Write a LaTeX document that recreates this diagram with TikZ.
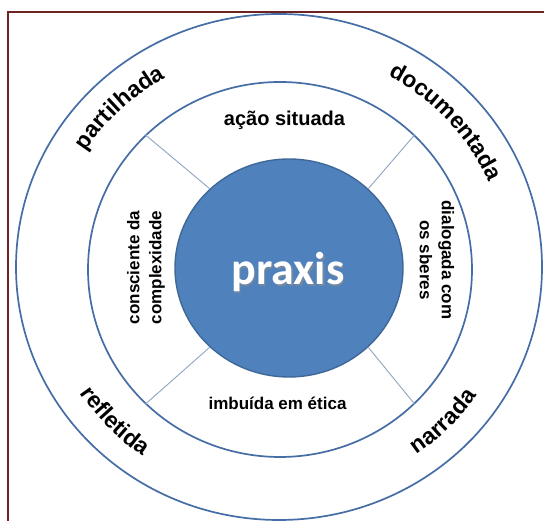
\documentclass[tikz,border=0pt]{standalone}
\usepackage{fontspec}
\setmainfont{Liberation Sans}
\newfontfamily\calibfont{Carlito}
\usetikzlibrary{decorations.text,shapes.geometric}
\definecolor{ringblue}{HTML}{456DA6}
\definecolor{praxisfill}{HTML}{4F81BD}
\definecolor{praxisdraw}{HTML}{3F6898}
\definecolor{spoke}{HTML}{8FA5C2}
\definecolor{framered}{HTML}{6E2323}
\tikzset{
  ringline/.style={draw=ringblue, line width=1.7pt, ellipse, inner sep=0pt},
  spokeline/.style={draw=spoke, line width=0.9pt},
  innerlabel/.style={font=\fontsize{17}{22}\selectfont\bfseries, align=center, inner sep=0pt},
  outerlabel/.style={decorate, decoration={text along path, text align=center,
     text={|\fontsize{23}{23}\selectfont\bfseries|#1}}}
}
\begin{document}
\begin{tikzpicture}[x=1pt,y=1pt]
\useasboundingbox (0,0) rectangle (544,521);
\fill[white] (0,0) rectangle (544,521);
% frame
\draw[framered, line width=2.5pt] (8,-5) -- (8,509) -- (560,509);
% rings
\node[ringline, minimum width=526pt, minimum height=506pt] (outer) at (279,254) {};
\node[ringline, minimum width=384pt, minimum height=375pt] (mid) at (280,251.5) {};
\node[ellipse, fill=praxisfill, draw=praxisdraw, line width=1.4pt, minimum width=228pt, minimum height=218pt, inner sep=0pt] (core) at (289,253) {};
% spokes
\draw[spokeline] (core.45) -- (mid.45);
\draw[spokeline] (core.135) -- (mid.135);
\draw[spokeline] (core.225) -- (mid.225);
\draw[spokeline] (core.315) -- (mid.315);
% praxis
\node[text=black!45, opacity=0.6, font=\calibfont\fontsize{46}{46}\selectfont\bfseries] at (289.5,247.5) {praxis};
\node[text=white, font=\calibfont\fontsize{46}{46}\selectfont\bfseries] (praxis) at (288,249) {praxis};
% inner labels
\node[innerlabel, font=\fontsize{20}{24}\selectfont\bfseries] (acao) at (284.5,401) {ação situada};
\node[innerlabel] (imbuida) at (277.5,118) {imbuída em ética};
\node[innerlabel, rotate=90] (consc) at (146,253.5) {consciente da\\complexidade};
\node[innerlabel, rotate=-90] (dial) at (437,261) {dialogada com\\os sberes};
% outer labels
\begin{scope}[shift={(279,253)}]
\path[outerlabel=partilhada] (164:228 and 219) arc[start angle=164, end angle=104, x radius=228, y radius=219];
\path[outerlabel=documentada] (72:228 and 219) arc[start angle=72, end angle=12, x radius=228, y radius=219];
\path[outerlabel=refletida] (194:238 and 229) arc[start angle=194, end angle=254, x radius=238, y radius=229];
\path[outerlabel=narrada] (286:238 and 229) arc[start angle=286, end angle=346, x radius=238, y radius=229];
\end{scope}
\end{tikzpicture}
\end{document}
